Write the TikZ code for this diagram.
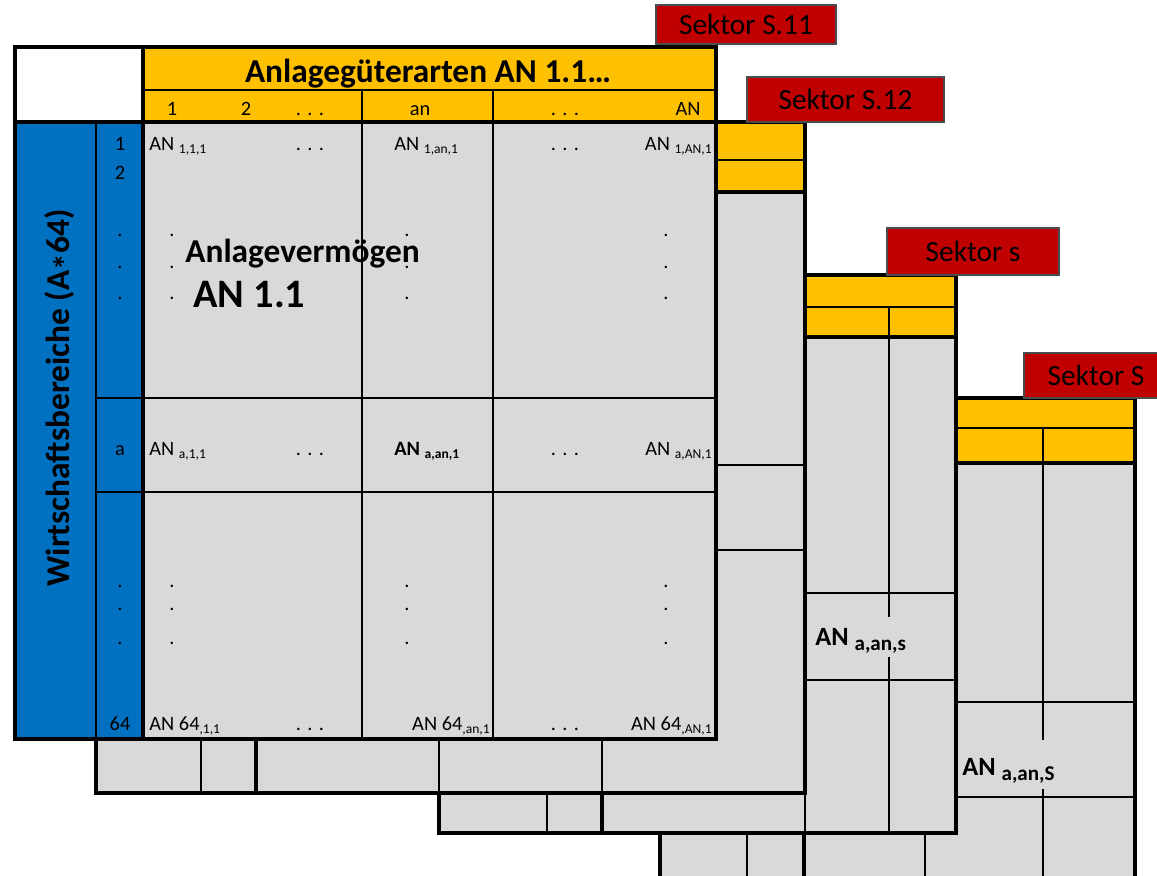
\documentclass[tikz,border=0pt]{standalone}
\usepackage{fontspec}
\setmainfont{Carlito}
\usepackage{tikz}
\usepackage{xcolor}
\definecolor{wzblue}{HTML}{0070C0}
\definecolor{wzyellow}{HTML}{FFC000}
\definecolor{wzgrey}{HTML}{D9D9D9}
\definecolor{wzred}{HTML}{C00000}
\newcommand{\lowidx}[2][7.7]{{\fontsize{#1}{#1}\selectfont\raisebox{-0.25em}{#2}}}
\newcommand{\rowdots}{.\hspace{3.6pt}.\hspace{3.6pt}.}

\begin{document}
\begin{tikzpicture}[x=0.02cm,y=-0.02cm,
  thk/.style={line width=1.9pt},
  thn/.style={line width=1.1pt},
  txt/.style={inner sep=0pt,font=\fontsize{11.6}{13}\selectfont},
  head/.style={inner sep=0pt,font=\bfseries\fontsize{19}{22}\selectfont},
  bighead/.style={inner sep=0pt,font=\bfseries\fontsize{23}{26}\selectfont},
  cellbig/.style={inner sep=0pt,font=\bfseries\fontsize{15}{17}\selectfont},
  sektor/.style={draw=black!70,line width=0.6pt,fill=wzred,inner sep=0pt,
    font=\fontsize{16.7}{18}\selectfont}]
\useasboundingbox (0,0) rectangle (1157,876);
% (iv) Sektor S
\begin{scope}
\fill[wzgrey] (660,398) rectangle (1135,900);
\fill[wzyellow] (660,398) rectangle (1135,463);
\draw[thn] (660,428) -- (1135,428);
\draw[thn] (660,702) -- (1135,702) (660,797) -- (1135,797);
\draw[thn] (747,463) -- (747,900) (925,463) -- (925,900);
\draw[thn] (1043,428) -- (1043,740) (1043,789) -- (1043,900);
\draw[thk] (804,463) -- (804,900);
\draw[thk] (660,463) -- (1135,463);
\draw[thk] (660,900) -- (660,398) -- (1135,398) -- (1135,900);
\node[cellbig,anchor=base west] (anS) at (962,775) {AN \lowidx[12]{a,an,S}};
\node[sektor,minimum width=2.88cm,minimum height=0.9cm] (labS) at (1096,375.5) {Sektor S};
\end{scope}
% (iii) Sektor s
\begin{scope}
\fill[wzgrey] (439,275) rectangle (956,833);
\fill[wzyellow] (439,275) rectangle (956,337);
\draw[thn] (439,307) -- (956,307);
\draw[thn] (439,593) -- (956,593) (439,680) -- (956,680);
\draw[thn] (547,307) -- (547,833) (805,307) -- (805,833);
\draw[thn] (889,307) -- (889,617) (889,657) -- (889,833);
\draw[thk] (602,337) -- (602,833);
\draw[thk] (439,337) -- (956,337);
\draw[thk] (439,275) rectangle (956,833);
\node[cellbig,anchor=base west] (ans) at (815,645) {AN \lowidx[12]{a,an,s}};
\node[sektor,minimum width=3.44cm,minimum height=0.94cm] (labs) at (973,251.5) {Sektor s};
\end{scope}
% (ii) Sektor S.12
\begin{scope}
\fill[wzgrey] (96,122) rectangle (805,793);
\fill[wzyellow] (96,122) rectangle (805,192);
\draw[thn] (96,160) -- (805,160);
\draw[thn] (96,465) -- (805,465) (96,550) -- (805,550);
\draw[thn] (201,192) -- (201,793) (439,192) -- (439,793) (602,192) -- (602,793);
\draw[thk] (256,192) -- (256,793);
\draw[thk] (96,192) -- (805,192);
\draw[thk] (96,122) rectangle (805,793);
\node[sektor,minimum width=3.94cm,minimum height=0.9cm] (labS12) at (845.5,99.5) {Sektor S.12};
\end{scope}
% (i) Sektor S.11
\begin{scope}
\fill[white] (15,47) rectangle (143,122);
\fill[wzyellow] (143,47) rectangle (716,122);
\fill[wzblue] (15,122) rectangle (143,739);
\fill[wzgrey] (143,122) rectangle (716,739);
\draw[thn] (143,90) -- (716,90);
\draw[thn] (362,90) -- (362,739) (493,90) -- (493,739);
\draw[thn] (96,122) -- (96,739);
\draw[thn] (96,398) -- (716,398) (96,492) -- (716,492);
\draw[thk] (15,122) -- (716,122);
\draw[thk] (143,47) -- (143,739);
\draw[thk] (15,47) rectangle (716,739);
\node[sektor,minimum width=3.6cm,minimum height=0.78cm] (labS11) at (746,24.5) {Sektor S.11};
% Kopf
\node[head,anchor=base] (title) at (428,82) {Anlagegüterarten AN 1.1…};
\node[txt,anchor=base] (h1) at (172,115) {1};
\node[txt,anchor=base] (h2) at (246,115) {2};
\node[txt,anchor=base] (hd1) at (310,115) {\rowdots};
\node[txt,anchor=base] (han) at (420,115) {an};
\node[txt,anchor=base] (hd2) at (565,115) {\rowdots};
\node[txt,anchor=base] (hAN) at (688,115) {AN};
\node[head,rotate=90,anchor=base] (wz) at (70,398) {Wirtschaftsbereiche (A\raisebox{-0.22em}{*}64)};
% Zeilen
\node[txt,anchor=base] (r1) at (120,150) {1};
\node[txt,anchor=base] (r2) at (120,179) {2};
\node[txt,anchor=base] (ra) at (120,455) {a};
\node[txt,anchor=base] (r64) at (120,730) {64};
\node[txt,anchor=base west] (c111) at (149,150) {AN \lowidx{1,1,1}};
\node[txt,anchor=base] (c1d1) at (310,150) {\rowdots};
\node[txt,anchor=base west] (c1an) at (394,150) {AN \lowidx{1,an,1}};
\node[txt,anchor=base] (c1d2) at (565,150) {\rowdots};
\node[txt,anchor=base east] (c1AN) at (712,150) {AN \lowidx{1,AN,1}};
\node[txt,anchor=base west] (ca11) at (149,455) {AN \lowidx{a,1,1}};
\node[txt,anchor=base] (cad1) at (310,455) {\rowdots};
\node[txt,anchor=base west,font=\bfseries\fontsize{11.6}{13}\selectfont] (caan) at (394,455) {AN \lowidx{a,an,1}};
\node[txt,anchor=base] (cad2) at (565,455) {\rowdots};
\node[txt,anchor=base east] (caAN) at (712,455) {AN \lowidx{a,AN,1}};
\node[txt,anchor=base west] (c6411) at (149,730) {AN 64\lowidx{,1,1}};
\node[txt,anchor=base] (c64d1) at (310,730) {\rowdots};
\node[txt,anchor=base east] (c64an) at (490,730) {AN 64\lowidx{,an,1}};
\node[txt,anchor=base] (c64d2) at (565,730) {\rowdots};
\node[txt,anchor=base east] (c64AN) at (712,730) {AN 64\lowidx{,AN,1}};
\foreach \dx in {120,172,407,666}
  \foreach \dy in {235,267,298,586,609,643}
    \node[txt,anchor=base] (d-\dx-\dy) at (\dx,\dy+1) {.};
\node[head,anchor=base west] (av) at (185,262) {Anlagevermögen};
\node[bighead,anchor=base west] (an11) at (193,307) {AN 1.1};
\end{scope}
\end{tikzpicture}
\end{document}
